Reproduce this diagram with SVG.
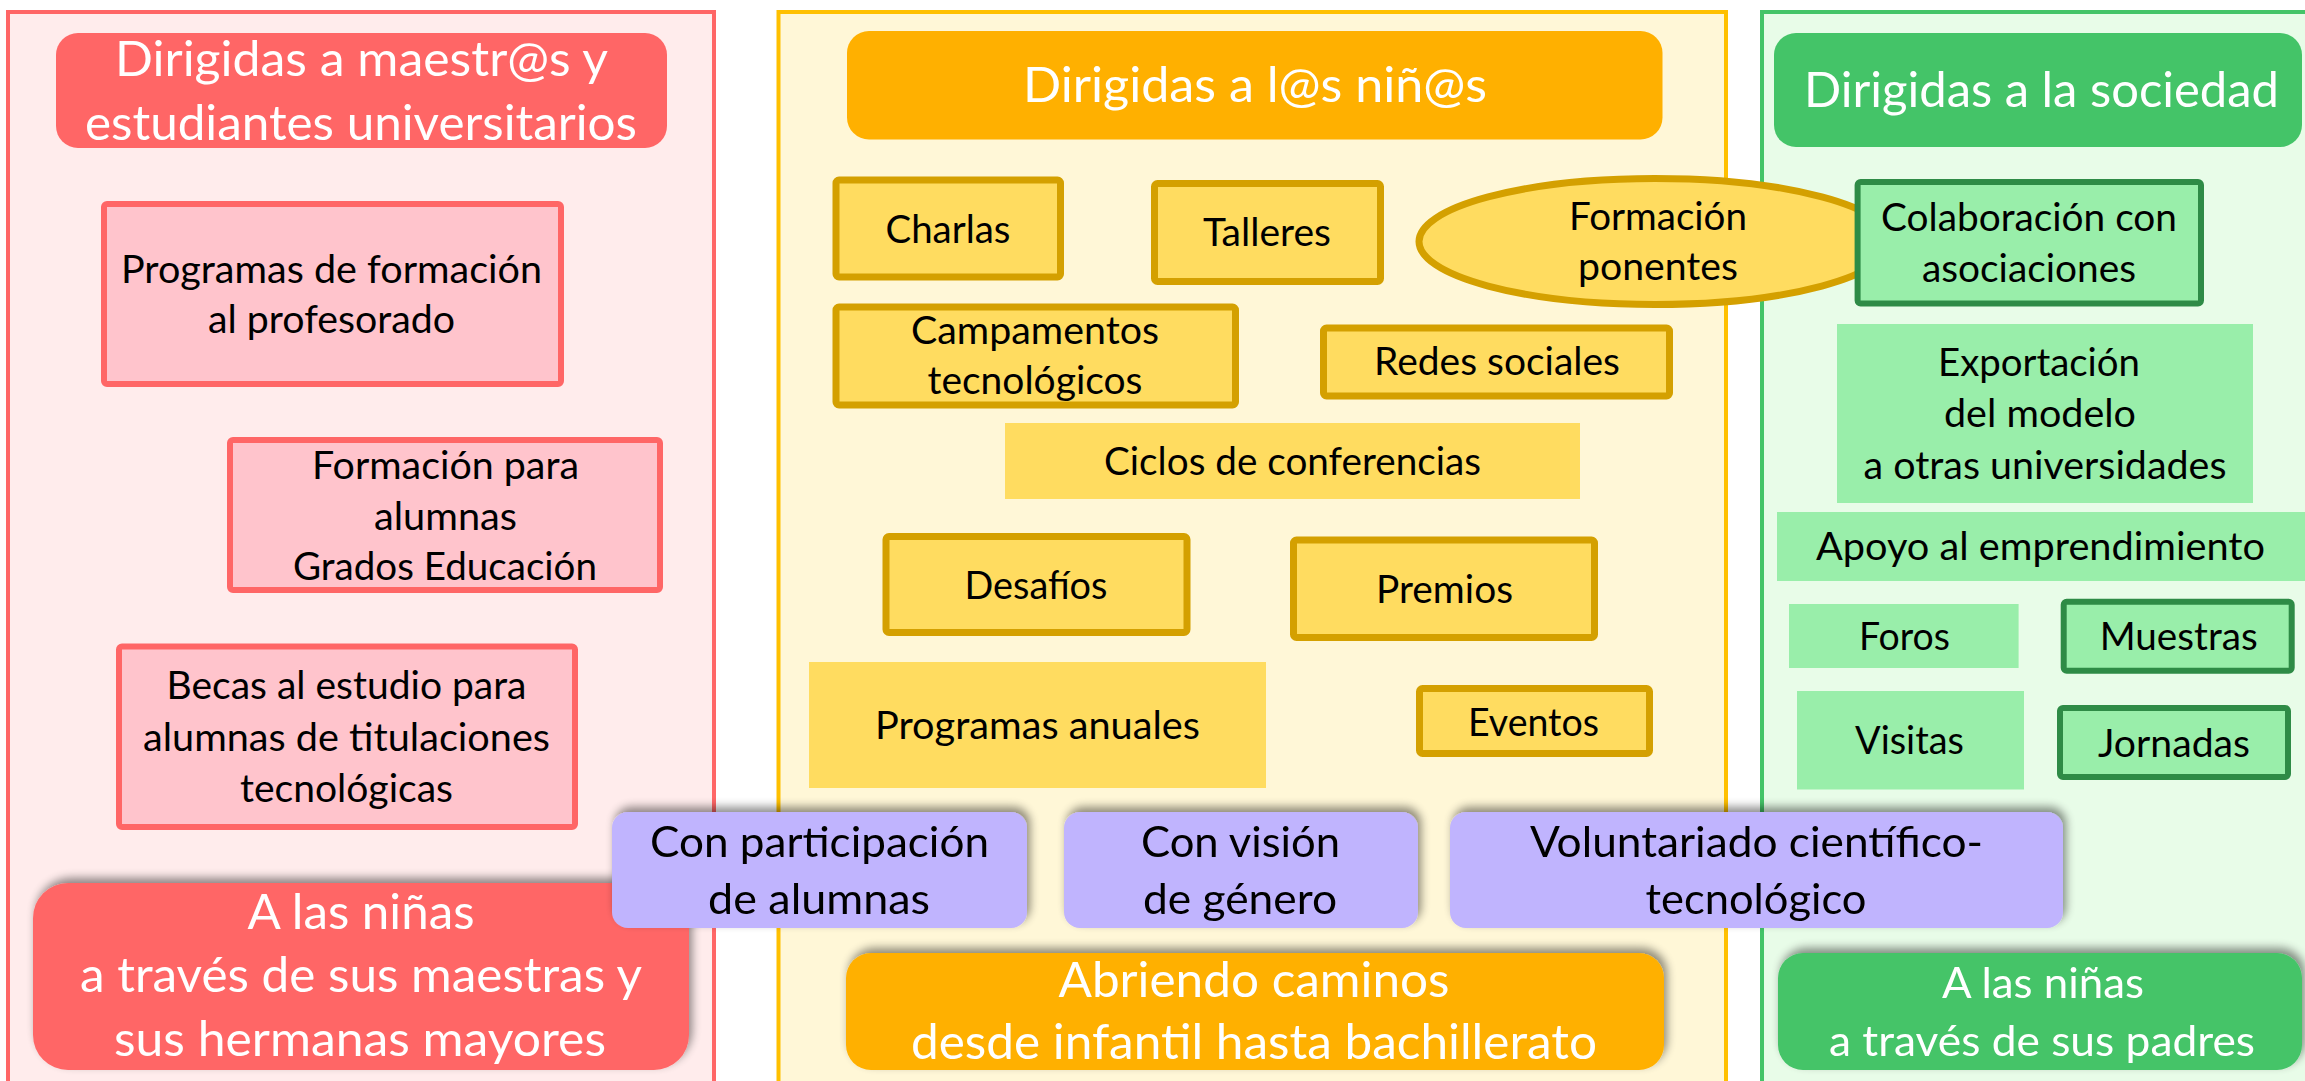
<svg xmlns="http://www.w3.org/2000/svg" width="2305" height="1081" viewBox="0 0 2305 1081">
<defs>
<style>
text{font-family:Lato,"Open Sans","Liberation Sans",sans-serif;text-anchor:middle;fill:#000}
.w{fill:#fff}
.s48{font-size:48px}
.s43{font-size:43px}
.s38{font-size:38px}
.pinkbox{fill:#FFC4CC;stroke:#FF6666;stroke-width:6}
.ybox{fill:#FFDC60;stroke:#D4A000;stroke-width:7}
.yplain{fill:#FFDC60}
.gbox{fill:#99EEAA;stroke:#2E8B46;stroke-width:6}
.gplain{fill:#99EEAA}
.purple{fill:#C0B4FE}
</style>
<filter id="sh" x="-10%" y="-30%" width="120%" height="160%">
<feGaussianBlur in="SourceAlpha" stdDeviation="5"/>
<feOffset dx="3" dy="-5" result="b"/>
<feComponentTransfer><feFuncA type="linear" slope="0.45"/></feComponentTransfer>
<feMerge><feMergeNode/><feMergeNode in="SourceGraphic"/></feMerge>
</filter>
</defs>
<rect width="2305" height="1081" fill="#fff"/>

<g id="panel-maestros">
<rect x="8" y="12" width="706" height="1100" fill="#FFECEC" stroke="#FF6666" stroke-width="4"/>
</g>
<g id="panel-ninos">
<rect x="778.5" y="12" width="947.5" height="1100" fill="#FFF7D7" stroke="#FFC000" stroke-width="4"/>
</g>
<g id="panel-sociedad">
<rect x="1762" y="12" width="600" height="1100" fill="#E8FCE8" stroke="#44C468" stroke-width="4"/>
</g>

<g id="connectors"></g>

<g id="hdr-maestros">
<rect x="56" y="33" width="611" height="115" rx="22" fill="#FF6666"/>
<text class="w s48" x="361.5" y="76" textLength="493" lengthAdjust="spacingAndGlyphs">Dirigidas a maestr@s y</text>
<text class="w s48" x="361" y="139.5" textLength="552" lengthAdjust="spacingAndGlyphs">estudiantes universitarios</text>
</g>
<g id="n-programas-formacion">
<rect class="pinkbox" x="104" y="204" width="457" height="180" rx="3"/>
<text class="s38" x="331.5" y="283" textLength="421" lengthAdjust="spacingAndGlyphs">Programas de formación</text>
<text class="s38" x="331.5" y="333" textLength="247" lengthAdjust="spacingAndGlyphs">al profesorado</text>
</g>
<g id="n-formacion-alumnas">
<rect class="pinkbox" x="230" y="440" width="430" height="150" rx="3"/>
<text class="s38" x="445.5" y="479" textLength="267" lengthAdjust="spacingAndGlyphs">Formación para</text>
<text class="s38" x="445.5" y="530" textLength="143" lengthAdjust="spacingAndGlyphs">alumnas</text>
<text class="s38" x="445" y="580" textLength="304" lengthAdjust="spacingAndGlyphs">Grados Educación</text>
</g>
<g id="n-becas">
<rect class="pinkbox" x="119" y="646.5" width="456" height="180.5" rx="3"/>
<text class="s38" x="346.5" y="699" textLength="360" lengthAdjust="spacingAndGlyphs">Becas al estudio para</text>
<text class="s38" x="346.5" y="751" textLength="407" lengthAdjust="spacingAndGlyphs">alumnas de titulaciones</text>
<text class="s38" x="346.5" y="802" textLength="213" lengthAdjust="spacingAndGlyphs">tecnológicas</text>
</g>
<g id="ftr-maestros" filter="url(#sh)">
<rect x="33" y="883" width="656" height="187" rx="35" fill="#FF6666"/>
<text class="w s48" x="361" y="929" textLength="227" lengthAdjust="spacingAndGlyphs">A las niñas</text>
<text class="w s48" x="361" y="992" textLength="562" lengthAdjust="spacingAndGlyphs">a través de sus maestras y</text>
<text class="w s48" x="360" y="1056" textLength="492" lengthAdjust="spacingAndGlyphs">sus hermanas mayores</text>
</g>

<g id="hdr-ninos">
<rect x="847" y="31" width="815.5" height="108.5" rx="22" fill="#FFB000"/>
<text class="w s48" x="1255" y="102" textLength="464" lengthAdjust="spacingAndGlyphs">Dirigidas a l@s niñ@s</text>
</g>
<g id="n-charlas">
<rect class="ybox" x="836" y="180" width="224.5" height="97" rx="3"/>
<text class="s38" x="948" y="243" textLength="125" lengthAdjust="spacingAndGlyphs">Charlas</text>
</g>
<g id="n-talleres">
<rect class="ybox" x="1154.5" y="183.5" width="226" height="98" rx="3"/>
<text class="s38" x="1267" y="246" textLength="128" lengthAdjust="spacingAndGlyphs">Talleres</text>
</g>
<g id="n-campamentos">
<rect class="ybox" x="836" y="307" width="399.5" height="98" rx="3"/>
<text class="s38" x="1035" y="344" textLength="248" lengthAdjust="spacingAndGlyphs">Campamentos</text>
<text class="s38" x="1035" y="394" textLength="215" lengthAdjust="spacingAndGlyphs">tecnológicos</text>
</g>
<g id="n-redes">
<rect class="ybox" x="1323.5" y="328" width="346" height="68" rx="3"/>
<text class="s38" x="1497" y="375" textLength="246" lengthAdjust="spacingAndGlyphs">Redes sociales</text>
</g>
<g id="n-ciclos">
<rect class="yplain" x="1005" y="423" width="575" height="76"/>
<text class="s38" x="1292.5" y="475" textLength="377" lengthAdjust="spacingAndGlyphs">Ciclos de conferencias</text>
</g>
<g id="n-desafios">
<rect class="ybox" x="886" y="536.5" width="301" height="96" rx="3"/>
<text class="s38" x="1036" y="599" textLength="143" lengthAdjust="spacingAndGlyphs">Desafíos</text>
</g>
<g id="n-premios">
<rect class="ybox" x="1293.5" y="540" width="301" height="97.5" rx="3"/>
<text class="s38" x="1444.5" y="603" textLength="137" lengthAdjust="spacingAndGlyphs">Premios</text>
</g>
<g id="n-programas-anuales">
<rect class="yplain" x="809" y="662" width="457" height="126"/>
<text class="s38" x="1037.5" y="739" textLength="325" lengthAdjust="spacingAndGlyphs">Programas anuales</text>
</g>
<g id="n-eventos">
<rect class="ybox" x="1419.5" y="688.5" width="230" height="65" rx="3"/>
<text class="s38" x="1533.5" y="736" textLength="131" lengthAdjust="spacingAndGlyphs">Eventos</text>
</g>
<g id="n-formacion-ponentes">
<ellipse cx="1655" cy="241.5" rx="236" ry="63" fill="#FFDC60" stroke="#D4A000" stroke-width="7"/>
<text class="s38" x="1658" y="230" textLength="178" lengthAdjust="spacingAndGlyphs">Formación</text>
<text class="s38" x="1658" y="280" textLength="160" lengthAdjust="spacingAndGlyphs">ponentes</text>
</g>
<g id="ftr-ninos" filter="url(#sh)">
<rect x="846" y="953" width="818" height="117" rx="25" fill="#FFB000"/>
<text class="w s48" x="1254" y="997" textLength="391" lengthAdjust="spacingAndGlyphs">Abriendo caminos</text>
<text class="w s48" x="1254" y="1059" textLength="686" lengthAdjust="spacingAndGlyphs">desde infantil hasta bachillerato</text>
</g>

<g id="hdr-sociedad">
<rect x="1774" y="33" width="528" height="114" rx="22" fill="#44C468"/>
<text class="w s48" x="2041.5" y="107" textLength="475" lengthAdjust="spacingAndGlyphs">Dirigidas a la sociedad</text>
</g>
<g id="n-colaboracion">
<rect class="gbox" x="1857.6" y="182" width="343.4" height="121.5" rx="3"/>
<text class="s38" x="2029" y="231" textLength="296" lengthAdjust="spacingAndGlyphs">Colaboración con</text>
<text class="s38" x="2029" y="282" textLength="214" lengthAdjust="spacingAndGlyphs">asociaciones</text>
</g>
<g id="n-exportacion">
<rect class="gplain" x="1837" y="324" width="416" height="179"/>
<text class="s38" x="2039" y="376" textLength="202" lengthAdjust="spacingAndGlyphs">Exportación</text>
<text class="s38" x="2040" y="427" textLength="192" lengthAdjust="spacingAndGlyphs">del modelo</text>
<text class="s38" x="2045" y="478.6" textLength="363" lengthAdjust="spacingAndGlyphs">a otras universidades</text>
</g>
<g id="n-apoyo">
<rect class="gplain" x="1777" y="512" width="528" height="69"/>
<text class="s38" x="2040.5" y="560" textLength="449" lengthAdjust="spacingAndGlyphs">Apoyo al emprendimiento</text>
</g>
<g id="n-foros">
<rect class="gplain" x="1789" y="604" width="229.6" height="64"/>
<text class="s38" x="1904.5" y="650" textLength="91" lengthAdjust="spacingAndGlyphs">Foros</text>
</g>
<g id="n-muestras">
<rect class="gbox" x="2063.7" y="601.7" width="228" height="69" rx="3"/>
<text class="s38" x="2178.7" y="650" textLength="158" lengthAdjust="spacingAndGlyphs">Muestras</text>
</g>
<g id="n-visitas">
<rect class="gplain" x="1797" y="691" width="227" height="98.5"/>
<text class="s38" x="1909.5" y="754" textLength="109" lengthAdjust="spacingAndGlyphs">Visitas</text>
</g>
<g id="n-jornadas">
<rect class="gbox" x="2060" y="708" width="228" height="69" rx="3"/>
<text class="s38" x="2174" y="757" textLength="152" lengthAdjust="spacingAndGlyphs">Jornadas</text>
</g>
<g id="ftr-sociedad" filter="url(#sh)">
<rect x="1778" y="953" width="524" height="117" rx="25" fill="#44C468"/>
<text class="w s43" x="2043" y="998" textLength="202" lengthAdjust="spacingAndGlyphs">A las niñas</text>
<text class="w s43" x="2042" y="1056" textLength="426" lengthAdjust="spacingAndGlyphs">a través de sus padres</text>
</g>

<g id="n-participacion" filter="url(#sh)">
<rect class="purple" x="612" y="812" width="415" height="116" rx="16"/>
<text class="s43" x="819.5" y="857" textLength="339" lengthAdjust="spacingAndGlyphs">Con participación</text>
<text class="s43" x="819" y="914" textLength="222" lengthAdjust="spacingAndGlyphs">de alumnas</text>
</g>
<g id="n-vision-genero" filter="url(#sh)">
<rect class="purple" x="1064" y="812" width="354" height="116" rx="16"/>
<text class="s43" x="1240.5" y="857" textLength="199" lengthAdjust="spacingAndGlyphs">Con visión</text>
<text class="s43" x="1240" y="914" textLength="194" lengthAdjust="spacingAndGlyphs">de género</text>
</g>
<g id="n-voluntariado" filter="url(#sh)">
<rect class="purple" x="1450" y="812" width="613" height="116" rx="16"/>
<text class="s43" x="1756.5" y="857" textLength="453" lengthAdjust="spacingAndGlyphs">Voluntariado científico-</text>
<text class="s43" x="1756" y="914" textLength="221" lengthAdjust="spacingAndGlyphs">tecnológico</text>
</g>
</svg>
